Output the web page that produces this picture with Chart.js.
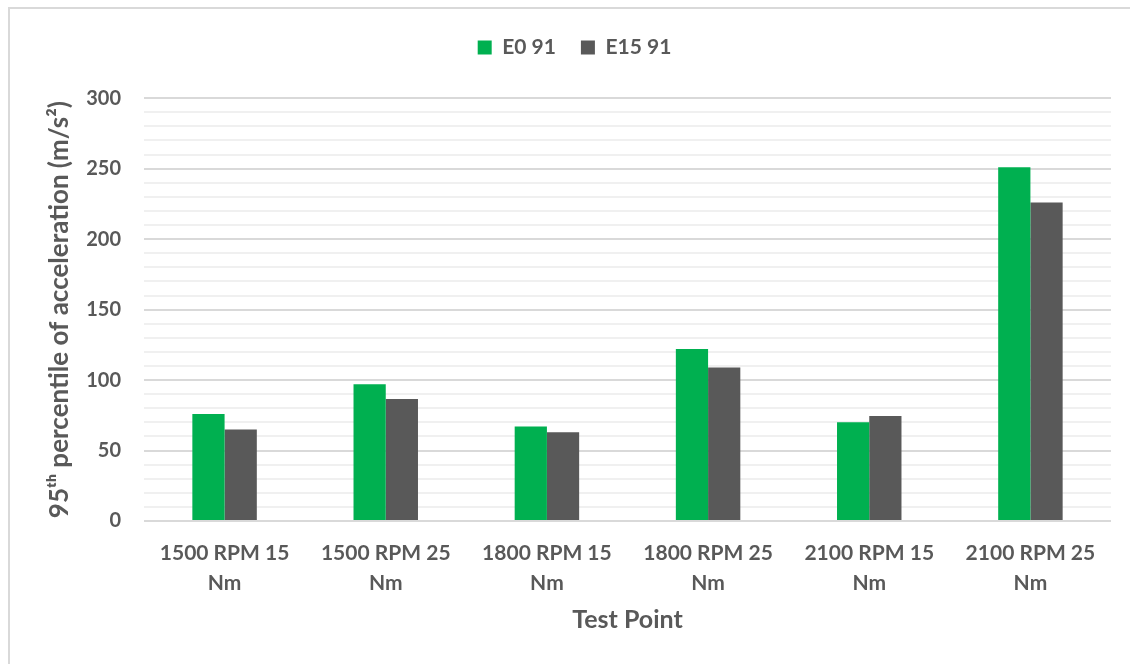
<!DOCTYPE html>
<html>
<head>
<meta charset="utf-8">
<script src="https://cdn.jsdelivr.net/npm/chart.js@4/dist/chart.umd.min.js"></script>
<style>
  html, body { margin: 0; padding: 0; background: #fff; overflow: hidden; }
  #frame {
    position: absolute; left: 8px; top: 7px; width: 1200px; height: 720px;
    border: 2px solid #d9d9d9; box-sizing: border-box;
  }
  #wrap { position: absolute; left: 0; top: 0; width: 1130px; height: 664px; }
</style>
</head>
<body>
<div id="frame"></div>
<div id="wrap"><canvas id="accelChart"></canvas></div>
<script>
const testPoints = [
  ["1500 RPM 15", "Nm"],
  ["1500 RPM 25", "Nm"],
  ["1800 RPM 15", "Nm"],
  ["1800 RPM 25", "Nm"],
  ["2100 RPM 15", "Nm"],
  ["2100 RPM 25", "Nm"],
];
const e0Values = [76, 97, 67, 122, 70, 251];
const e15Values = [65, 86.5, 63, 109, 74.5, 226];

const textGrey = "#595959";
const fontFamily = "Lato, 'Open Sans', sans-serif";

const ctx = document.getElementById("accelChart").getContext("2d");

new Chart(ctx, {
  type: "bar",
  data: {
    labels: testPoints,
    datasets: [
      { label: "E0 91", data: e0Values, backgroundColor: "#00b050" },
      { label: "E15 91", data: e15Values, backgroundColor: "#595959" },
    ],
  },
  options: {
    responsive: true,
    maintainAspectRatio: false,
    animation: false,
    categoryPercentage: 0.4,
    barPercentage: 1,
    layout: { padding: { top: 12, right: 19, left: 38, bottom: 0 } },
    plugins: {
      tooltip: { enabled: false },
      legend: {
        position: "top",
        labels: {
          color: textGrey,
          font: { family: fontFamily, size: 21, weight: "bold" },
          boxWidth: 14,
          boxHeight: 14,
          padding: 25,
        },
      },
      // empty title under the legend, just to leave a gap above the plot
      title: {
        display: true,
        text: "",
        weight: 500,
        font: { size: 1 },
        padding: { top: 29, bottom: 0 },
      },
    },
    scales: {
      x: {
        grid: { display: false },
        border: { display: false },
        ticks: {
          color: textGrey,
          font: { family: fontFamily, size: 21, weight: "bold", lineHeight: 1.4 },
          padding: 10,
          maxRotation: 0,
          autoSkip: false,
        },
        title: {
          display: true,
          text: "Test Point",
          color: textGrey,
          font: { family: fontFamily, size: 25, weight: "bold" },
          padding: { top: 4, bottom: 29 },
        },
        afterFit: (scale) => { scale.height = 143; },
      },
      y: {
        min: 0,
        max: 300,
        border: { display: false },
        grid: {
          drawTicks: false,
          lineWidth: 2,
          color: (c) => (c.tick && c.tick.value % 50 === 0 ? "#d9d9d9" : "#f0f0f0"),
        },
        ticks: {
          stepSize: 10,
          autoSkip: false,
          padding: 23,
          color: textGrey,
          font: { family: fontFamily, size: 20, weight: "bold" },
          callback: (v) => (v % 50 === 0 ? v : ""),
        },
        title: {
          display: true,
          text: "95ᵗʰ percentile of acceleration (m/s²)",
          color: textGrey,
          font: { family: fontFamily, size: 26, weight: "bold" },
          padding: { top: 6, bottom: 4 },
        },
        afterFit: (scale) => { scale.width = 106; },
      },
    },
  },
});
</script>
</body>
</html>
